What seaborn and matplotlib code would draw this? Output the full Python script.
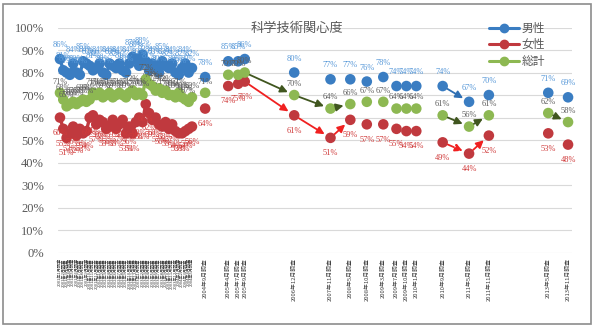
import matplotlib
matplotlib.use("Agg")
import matplotlib.pyplot as plt
import seaborn as sns
import pandas as pd
import numpy as np
from matplotlib.patches import Rectangle
from matplotlib.lines import Line2D

# ---------------- data ----------------
dense_dates = ["2001-01","2001-02","2001-03","2001-04","2001-05","2001-06","2001-07","2001-08",
               "2001-09","2001-10","2001-11","2001-12","2002-01","2002-02","2002-03","2002-04",
               "2002-05","2002-06","2002-07","2002-08","2002-09","2002-10","2002-11","2002-12",
               "2003-01","2003-02","2003-03","2003-04","2003-05","2003-06","2003-07","2003-08",
               "2003-09","2003-10","2003-11","2003-12","2004-01","2004-02","2004-03","2004-04",
               "2004-05"]
sparse_dates = ["2004-09","2005-04","2005-07","2005-09","2006-12","2007-11","2008-05","2008-10",
                "2009-03","2009-07","2009-10","2010-01","2010-09","2011-05","2011-11","2013-05",
                "2013-11"]

male_dense = [86, 81, 80, 79, 84, 80, 79, 85, 84, 83, 81, 82, 84, 80, 79, 84, 83, 82, 84, 81,
              80, 84, 87, 86, 83, 88, 85, 81, 84, 83, 80, 85, 83, 82, 84, 80, 79, 82, 84, 80, 82]
female_dense = [60, 55, 51, 53, 56, 52, 55, 53, 54, 60, 61, 57, 59, 58, 55, 56, 59, 55, 57, 59,
                53, 56, 53, 58, 60, 58, 66, 62, 59, 60, 57, 56, 58, 55, 57, 54, 53, 53, 54, 55, 56]
total_dense = [71, 68, 65, 66, 67, 66, 67, 68, 67, 68, 71, 70, 71, 69, 70, 71, 69, 70, 71, 70,
               69, 71, 72, 70, 71, 70, 77, 75, 74, 72, 73, 71, 72, 70, 70, 69, 71, 69, 68, 67, 69]

male_sparse = [78, 85, 85, 86, 80, 77, 77, 76, 78, 74, 74, 74, 74, 67, 70, 71, 69]
female_sparse = [64, 74, 75, 76, 61, 51, 59, 57, 57, 55, 54, 54, 49, 44, 52, 53, 48]
total_sparse = [71, 79, 79, 80, 70, 64, 66, 67, 67, 64, 64, 64, 61, 56, 61, 62, 58]

series_names = ["男性", "女性", "総計"]
title_text = "科学技術関心度"

# arrows: (series, from date, to date, dashed)
arrows = [
    ("総計", "2005-09", "2006-12", False), ("総計", "2006-12", "2007-11", False),
    ("総計", "2007-11", "2008-05", False), ("総計", "2010-09", "2011-05", False),
    ("総計", "2011-05", "2011-11", False), ("総計", "2013-05", "2013-11", False),
    ("女性", "2005-09", "2006-12", False), ("女性", "2006-12", "2007-11", False),
    ("女性", "2007-11", "2008-05", False), ("女性", "2010-09", "2011-05", True),
    ("女性", "2011-05", "2011-11", False),
    ("男性", "2010-09", "2011-05", False),
]

# ---------------- helpers ----------------
def month_index(s):
    y, m = s.split("-")
    return (int(y) - 2001) * 12 + int(m) - 1

def jp_label(s):
    y, m = s.split("-")
    return f"{int(y)}年{int(m)}月調査"

all_dates = dense_dates + sparse_dates
vals = {
    "男性": male_dense + male_sparse,
    "女性": female_dense + female_sparse,
    "総計": total_dense + total_sparse,
}
rows = []
for name in series_names:
    for d, v in zip(all_dates, vals[name]):
        rows.append({"date": d, "t": month_index(d), "value": v, "series": name,
                     "dense": d in dense_dates})
df = pd.DataFrame(rows)

colors = {"男性": "#3A7DC2", "女性": "#C0393E", "総計": "#8DB852"}
label_colors = {"男性": "#5597D8", "女性": "#D03A3A", "総計": "#5E5E5E"}
label_offset = {"男性": 10, "女性": -11, "総計": 8}
arrow_colors = {"男性": "#2F6FB3", "女性": "#F02020", "総計": "#40561F"}

serif = ["Liberation Serif", "Noto Sans CJK JP"]
cjk = ["Noto Sans CJK JP", "DejaVu Sans"]

# ---------------- figure ----------------
sns.set_theme(style="white")
plt.rcParams["font.family"] = serif

fig = plt.figure(figsize=(5.96, 3.31), dpi=100)
ax = fig.add_axes([58 / 596, 1 - 252.7 / 331, 514 / 596, 225.2 / 331])

ax.set_ylim(0, 100)
ax.set_xlim(-0.6, 155.2)
ax.set_yticks(np.arange(0, 101, 10))
ax.set_yticklabels([f"{v}%" for v in range(0, 101, 10)], fontsize=9, color="#595959")
ax.grid(axis="y", color="#D9D9D9", lw=0.8)
ax.set_axisbelow(True)
for sp in ax.spines.values():
    sp.set_visible(False)
ax.tick_params(axis="y", length=0, pad=10)

# dense connected lines
dd = df[df["dense"]]
sns.lineplot(data=dd, x="t", y="value", hue="series", palette=colors, hue_order=series_names,
             lw=2.4, ax=ax, legend=False, sort=True, estimator=None, zorder=3)
# markers
sns.scatterplot(data=df, x="t", y="value", hue="series", palette=colors, hue_order=series_names,
                s=58, edgecolor="none", ax=ax, legend=False, zorder=4, clip_on=False)

# data labels
for _, r in df.iterrows():
    ax.annotate(f"{r['value']}%", (r["t"], r["value"]), xytext=(0, label_offset[r["series"]]),
                textcoords="offset points", ha="center", va="center", fontsize=6,
                color=label_colors[r["series"]], zorder=5, annotation_clip=False)

# arrows
for name, a, b, dashed in arrows:
    ia, ib = all_dates.index(a), all_dates.index(b)
    xa, ya = month_index(a), vals[name][ia]
    xb, yb = month_index(b), vals[name][ib]
    ax.annotate("", xy=(xb, yb), xytext=(xa, ya),
                arrowprops=dict(arrowstyle="-|>", color=arrow_colors[name], lw=1.3,
                                linestyle="--" if dashed else "-", shrinkA=4, shrinkB=5,
                                mutation_scale=11), zorder=6)

# x tick labels
ax.set_xticks([month_index(d) for d in all_dates])
ax.set_xticklabels([jp_label(d) for d in all_dates], rotation=90, color="#404040",
                   family=cjk)
for lbl, d in zip(ax.get_xticklabels(), all_dates):
    lbl.set_fontsize(3.0 if d in dense_dates else 4.2)
ax.tick_params(axis="x", length=0, pad=4)
ax.set_xlabel("")
ax.set_ylabel("")

# title
fig.text(297 / 596, 1 - 28 / 331, title_text, ha="center", va="center", fontsize=9.5,
         color="#595959", family=cjk)

# legend
handles = [Line2D([0], [0], color=colors[n], lw=2.2, marker="o", markersize=6) for n in series_names]
leg = fig.legend(handles, series_names, loc="upper left", bbox_to_anchor=(484 / 596, 1 - 17 / 331),
                 frameon=False, prop={"family": cjk, "size": 8.5}, handlelength=2.6,
                 labelspacing=0.3, handletextpad=0.2, borderaxespad=0)
for t in leg.get_texts():
    t.set_color("#595959")

# outer border
fig.patches.append(Rectangle((3 / 596, 1 - 324 / 331), 588 / 596, 320 / 331,
                             transform=fig.transFigure, fill=False, edgecolor="#8C8C8C", lw=1.2))

fig.savefig("out.png", dpi=100)
